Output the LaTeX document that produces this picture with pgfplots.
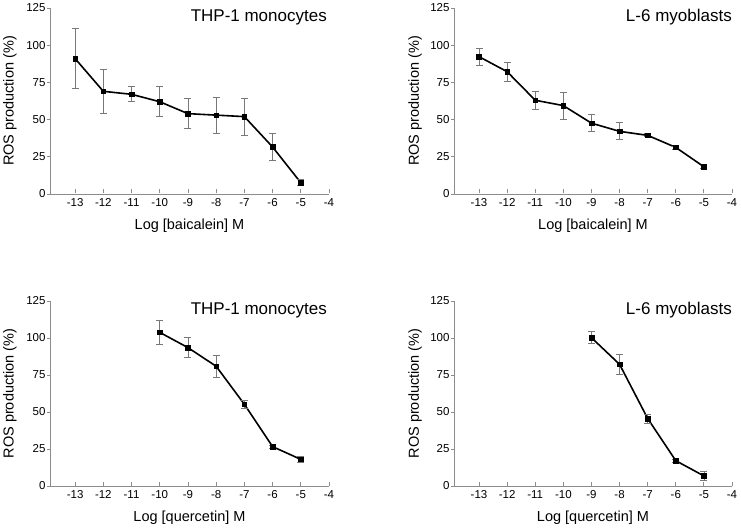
\documentclass[border=0pt]{standalone}
\usepackage{pgfplots}
\pgfplotsset{compat=1.18}
\usepackage{fontspec}
\setmainfont{Liberation Sans}
\definecolor{axgray}{RGB}{140,140,140}
\definecolor{ebgray}{RGB}{120,120,120}
\pgfplotsset{
  panel/.style={
    scale only axis, width=279pt, height=186pt,
    xmin=-13.89, xmax=-4, ymin=0, ymax=125,
    axis lines*=left,
    axis line style={axgray, line width=0.9pt},
    xtick={-13,-12,...,-4}, ytick={0,25,50,75,100,125},
    tick align=inside,
    major tick length=4pt,
    xtick style={axgray, line width=0.9pt, yshift=0.5pt},
    ytick style={axgray, line width=0.9pt, xshift=-3pt},
    /pgf/number format/assume math mode=true,
    tick label style={font=\fontsize{11.5}{13}\selectfont, black},
    xticklabel style={yshift=-1pt},
    yticklabel style={xshift=-1pt},
    label style={font=\fontsize{14.5}{17}\selectfont},
    xlabel style={at={(axis description cs:0.5,0)}, anchor=center, yshift=-32pt},
    ylabel style={at={(axis description cs:-0.1434,0.5)}, anchor=center, rotate=0},
    ylabel={ROS production (\%)},
    clip=false,
  },
  dat/.style={black, line width=1.6pt, mark=square*, mark size=2.3pt,
    mark options={solid, fill=black, draw=black, line width=0.5pt},
    error bars/.cd, y dir=both, y explicit,
    error bar style={ebgray, line width=0.8pt},
    error mark options={ebgray, mark size=3.5pt, line width=0.8pt, rotate=90}},
}
\newcommand{\ttl}[2]{\node[anchor=east, inner sep=0pt, font=\fontsize{17}{20}\selectfont] at ([xshift=#2, yshift=-9.5pt]rel axis cs:1,1) {#1};}
\begin{document}
\begin{tikzpicture}
\useasboundingbox (0,0) rectangle (741pt,530pt);
% top-left
\begin{axis}[panel, at={(50pt,336pt)}, anchor=south west, xlabel={Log [baicalein] M}]
\addplot[dat] coordinates {
 (-13,91) +- (0,20)
 (-12,69) +- (0,15)
 (-11,67) +- (0,5)
 (-10,62) +- (0,10)
 (-9,54) +- (0,10)
 (-8,53) +- (0,12)
 (-7,52) +- (0,12.5)
 (-6,31.6) +- (0,9)
 (-5,7.6) +- (0,2)
};
\ttl{THP-1 monocytes}{-2pt}
\end{axis}
% top-right
\begin{axis}[panel, at={(454pt,336pt)}, anchor=south west, width=278pt, xlabel={Log [baicalein] M},
  ylabel style={at={(axis description cs:-0.14,0.5)}}]
\addplot[dat] coordinates {
 (-13,92.3) +- (0,5.7)
 (-12,82.2) +- (0,6.4)
 (-11,63) +- (0,6)
 (-10,59.4) +- (0,9)
 (-9,47.6) +- (0,5.8)
 (-8,42.1) +- (0,5.7)
 (-7,39.4) +- (0,1)
 (-6,31.3) +- (0,1)
 (-5,18.3) +- (0,1)
};
\ttl{L-6 myoblasts}{0pt}
\end{axis}
% bottom-left
\begin{axis}[panel, at={(50pt,44pt)}, anchor=south west, height=185pt, xlabel={Log [quercetin] M}]
\addplot[dat] coordinates {
 (-10,103.8) +- (0,8)
 (-9,93.5) +- (0,6.7)
 (-8,80.9) +- (0,7.3)
 (-7,55.2) +- (0,2.5)
 (-6,26.6) +- (0,1)
 (-5,18) +- (0,2.3)
};
\ttl{THP-1 monocytes}{-2pt}
\end{axis}
% bottom-right
\begin{axis}[panel, at={(454pt,44pt)}, anchor=south west, width=278pt, height=185pt, xlabel={Log [quercetin] M},
  ylabel style={at={(axis description cs:-0.14,0.5)}}]
\addplot[dat] coordinates {
 (-9,100.2) +- (0,4)
 (-8,82.2) +- (0,7)
 (-7,45.6) +- (0,3)
 (-6,17.1) +- (0,1)
 (-5,6.8) +- (0,2.8)
};
\ttl{L-6 myoblasts}{0pt}
\end{axis}
\end{tikzpicture}
\end{document}
